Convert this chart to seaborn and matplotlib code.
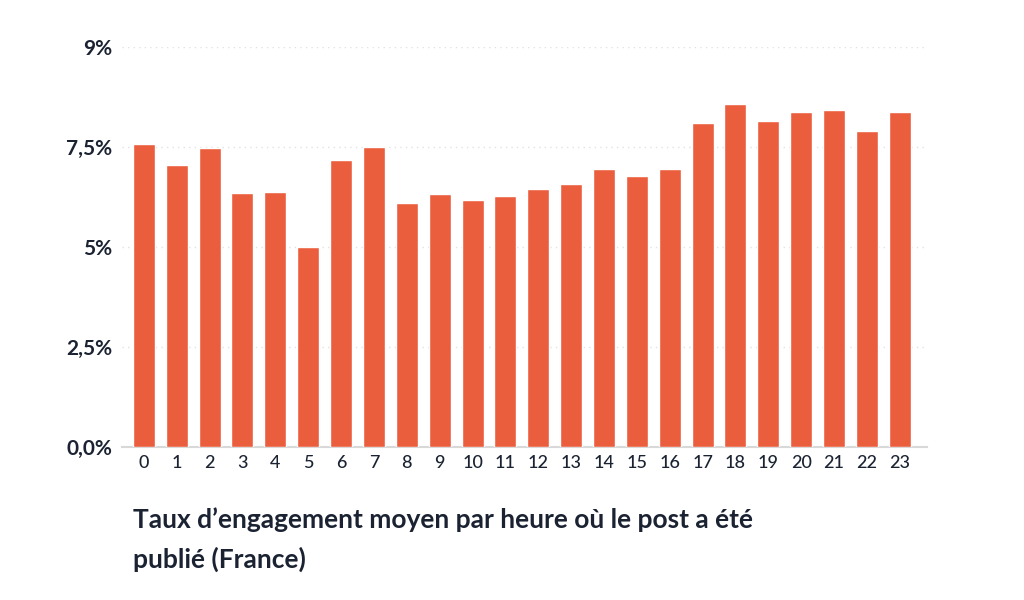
import numpy as np
import pandas as pd
import matplotlib
matplotlib.use("Agg")
import matplotlib.pyplot as plt
import seaborn as sns

# engagement rate (%) per posting hour
hours = [str(h) for h in range(24)]
rates = [7.58, 7.05, 7.48, 6.35, 6.38, 5.0, 7.18, 7.5, 6.1, 6.33, 6.18, 6.28,
         6.45, 6.58, 6.95, 6.78, 6.95, 8.1, 8.58, 8.15, 8.38, 8.43, 7.9, 8.38]
ytick_vals = [0, 2.5, 5, 7.5, 10]
ytick_labels = ["0,0%", "2,5%", "5%", "7,5%", "9%"]
title = "Taux d\u2019engagement moyen par heure où le post a été\npublié (France)"

df = pd.DataFrame({"heure": hours, "taux": rates})

sns.set_theme(style="white")
plt.rcParams['font.family'] = ['Lato', 'DejaVu Sans']

dark = "#1b2333"
fig = plt.figure(figsize=(10.24, 6), dpi=100)
ax = fig.add_axes([0.119, 0.255, 0.786, 0.667])

sns.barplot(data=df, x="heure", y="taux", color="#ea5e3d", saturation=1,
            width=0.67, order=hours, ax=ax, zorder=3)

ax.set_ylim(0, 10)
ax.set_xlim(-0.67, 23.82)
ax.set_yticks(ytick_vals)
ax.set_yticklabels(ytick_labels, fontsize=15, fontweight="bold", color=dark)
ax.tick_params(axis="x", labelsize=13, colors=dark, length=0, pad=6)
ax.tick_params(axis="y", length=0, pad=7)
for lab in ax.get_xticklabels():
    lab.set_fontweight("medium")

# faint dotted gridlines
for v in ytick_vals[1:]:
    ax.axhline(v, color="#e2e2e2", linestyle=(0, (1, 3)), linewidth=1, zorder=1)

for side in ["top", "right", "left"]:
    ax.spines[side].set_visible(False)
ax.spines["bottom"].set_color("#d8d8d8")
ax.spines["bottom"].set_linewidth(1.5)
ax.set_xlabel("")
ax.set_ylabel("")

fig.text(133 / 1024, 1 - 507 / 600, title, fontsize=19, fontweight="bold",
         color=dark, ha="left", va="top", linespacing=1.7)

fig.savefig("out.png", dpi=100, facecolor="white")
